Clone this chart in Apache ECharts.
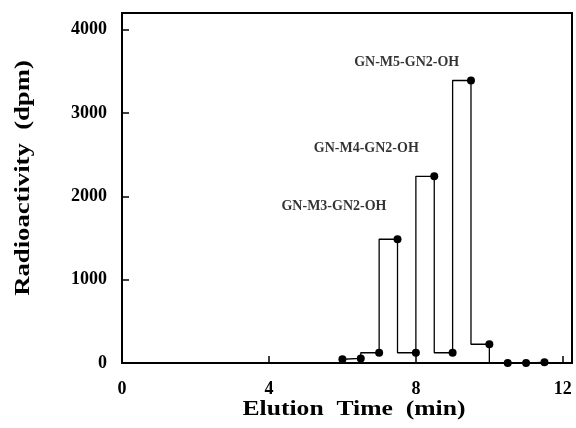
<!DOCTYPE html>
<html>
<head>
<meta charset="utf-8">
<script src="https://cdn.jsdelivr.net/npm/echarts@6/dist/echarts.min.js"></script>
<style>html,body{margin:0;padding:0;background:#fff}#c{width:576px;height:428px}</style>
</head>
<body>
<div id="c"></div>
<script>
var elutionTime = [6, 6.5, 7, 7.5, 8, 8.5, 9, 9.5, 10, 10.5, 11, 11.5];
var radioactivity = [45, 55, 123, 1485, 123, 2240, 123, 3390, 225, 0, 0, 8];
var peakLabels = ['GN-M3-GN2-OH', 'GN-M4-GN2-OH', 'GN-M5-GN2-OH'];
var peakLabelX = [5.77, 6.65, 7.75];
var peakLabelY = [1880, 2575, 3605];
var xTicks = [0, 4, 8, 12];
var yTicks = [0, 1000, 2000, 3000, 4000];

var FONT = '"Liberation Serif", "Times New Roman", serif';
var chart = echarts.init(document.getElementById('c'), null, {renderer: 'canvas'});
var lineData = elutionTime.map(function (x, i) { return [x, radioactivity[i]]; });
var labelData = peakLabels.map(function (t, i) { return {value: [peakLabelX[i], peakLabelY[i]], name: t}; });

chart.setOption({
  animation: false,
  backgroundColor: '#fff',
  grid: {left: 122, right: 4, top: 13, bottom: 65, containLabel: false},
  xAxis: [{
    type: 'value', min: 0, max: 12.25, interval: 4,
    axisLine: {show: true, onZero: false, lineStyle: {color: '#000', width: 2}},
    axisTick: {show: true, inside: true, length: 7, lineStyle: {color: '#000', width: 1.5}},
    axisLabel: {margin: 17, color: '#000', fontFamily: FONT, fontWeight: 'bold', fontSize: 18,
      showMaxLabel: false,
      formatter: function (v) { return xTicks.indexOf(v) >= 0 ? String(v) : ''; }},
    splitLine: {show: false}
  }, {
    type: 'value', min: 0, max: 12.25, position: 'top',
    axisLine: {show: true, onZero: false, lineStyle: {color: '#000', width: 2}},
    axisTick: {show: false}, axisLabel: {show: false}, splitLine: {show: false}
  }],
  yAxis: [{
    type: 'value', min: 0, max: 4200, interval: 1000,
    axisLine: {show: true, onZero: false, lineStyle: {color: '#000', width: 2}},
    axisTick: {show: true, inside: true, length: 7, lineStyle: {color: '#000', width: 1.5}},
    axisLabel: {margin: 15, color: '#000', fontFamily: FONT, fontWeight: 'bold', fontSize: 18,
      showMaxLabel: false,
      formatter: function (v) { return yTicks.indexOf(v) >= 0 ? String(v) : ''; }},
    splitLine: {show: false}
  }, {
    type: 'value', min: 0, max: 4200, position: 'right',
    axisLine: {show: true, onZero: false, lineStyle: {color: '#000', width: 2}},
    axisTick: {show: false}, axisLabel: {show: false}, splitLine: {show: false}
  }],
  series: [{
    type: 'line', data: lineData, step: 'start',
    symbol: 'circle', symbolSize: 8,
    lineStyle: {color: '#000', width: 1.3},
    itemStyle: {color: '#000'}
  }, {
    type: 'scatter', data: labelData, symbolSize: 0,
    label: {show: true, position: 'inside', formatter: '{b}', color: '#000',
      textBorderWidth: 0, fontFamily: FONT, fontWeight: 'bold', fontSize: 14}
  }],
  graphic: [{
    type: 'text', x: 354, y: 410, scaleX: 1.22,
    style: {text: 'Elution  Time  (min)', font: 'bold 21px ' + FONT, fill: '#000',
      textAlign: 'center', textVerticalAlign: 'middle'}
  }, {
    type: 'text', x: 24, y: 178, rotation: Math.PI / 2, scaleX: 1.27,
    style: {text: 'Radioactivity  (dpm)', font: 'bold 21px ' + FONT, fill: '#000',
      textAlign: 'center', textVerticalAlign: 'middle'}
  }]
});
</script>
</body>
</html>
